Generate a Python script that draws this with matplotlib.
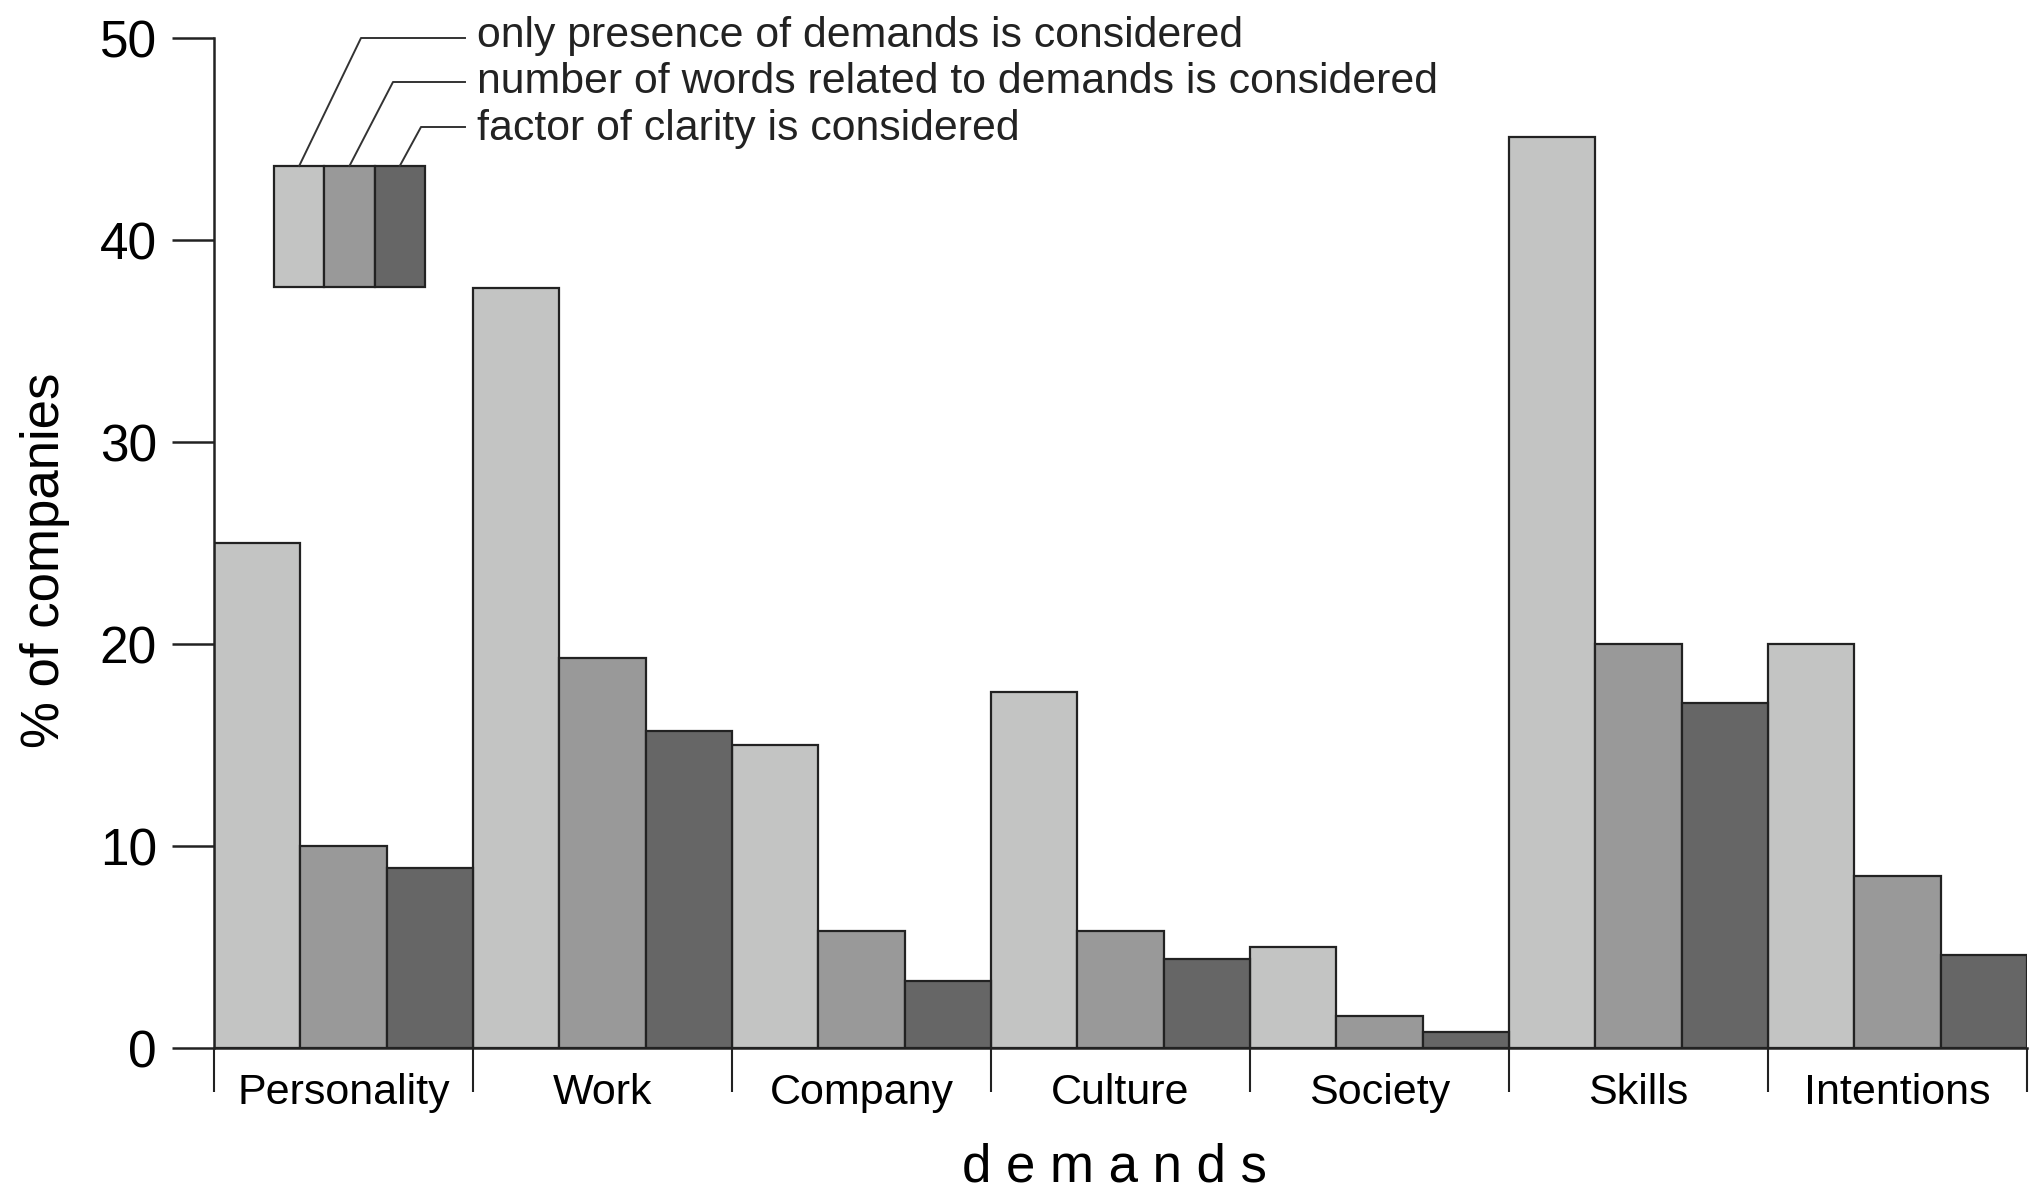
import matplotlib
matplotlib.use("Agg")
import matplotlib.pyplot as plt
from matplotlib.lines import Line2D
from matplotlib.patches import Rectangle

plt.rcParams["font.family"] = ["Liberation Sans", "DejaVu Sans"]

# data
categories = ["Personality", "Work", "Company", "Culture", "Society", "Skills", "Intentions"]
presence = [25.0, 37.6, 15.0, 17.6, 5.0, 45.1, 20.0]
word_count = [10.0, 19.3, 5.8, 5.8, 1.6, 20.0, 8.5]
clarity = [8.9, 15.7, 3.3, 4.4, 0.8, 17.1, 4.6]
series_labels = [
    "only presence of demands is considered",
    "number of words related to demands is considered",
    "factor of clarity is considered",
]
y_ticks = [0, 10, 20, 30, 40, 50]

colors = ["#c3c4c3", "#999999", "#666666"]
edge = "#222222"

W, H = 2038, 1201


def px(x, y):
    """pixel position (from top left) -> figure fraction"""
    return x / W, 1 - y / H


fig = plt.figure(figsize=(W / 100, H / 100), dpi=100)
fig.set_facecolor("white")
ax = fig.add_axes([214 / W, 1 - 1048 / H, (2027 - 214) / W, (1048 - 38) / H])

series = [presence, word_count, clarity]
n = len(series)
for i, vals in enumerate(series):
    xs = [k + (i + 0.5) / n for k in range(len(categories))]
    ax.bar(xs, vals, width=1 / n, color=colors[i], edgecolor=edge, linewidth=1.6)

ax.set_xlim(0, len(categories))
ax.set_ylim(0, 50)

for side in ["top", "right"]:
    ax.spines[side].set_visible(False)
for side in ["left", "bottom"]:
    ax.spines[side].set_linewidth(1.8)
    ax.spines[side].set_color(edge)

ax.set_yticks(y_ticks)
ax.tick_params(axis="y", length=30, width=1.8, pad=11, labelsize=37, color=edge)

ax.set_xticks([k + 0.5 for k in range(len(categories))])
ax.set_xticklabels(categories)
ax.set_xticks(range(len(categories) + 1), minor=True)
ax.tick_params(axis="x", which="major", length=0, pad=18, labelsize=31)
ax.tick_params(axis="x", which="minor", length=31.7, width=1.5, color=edge)

fig.text(*px(45, 560), "% of companies", rotation=90, ha="center", va="center", fontsize=38)
fig.text(*px(1114, 1168), "d e m a n d s", ha="center", va="center", fontsize=38)

# hand-drawn style legend with leader lines
box_left, box_top, box_bottom, cell_w = 274, 166, 287, 50.3
elbow_x = [361, 393, 421]
line_y = [38, 82, 127]
text_base = [47, 93, 140]
for i, label in enumerate(series_labels):
    x0 = box_left + i * cell_w
    fig.add_artist(Rectangle(px(x0, box_bottom), cell_w / W, (box_bottom - box_top) / H,
                             transform=fig.transFigure, facecolor=colors[i],
                             edgecolor=edge, linewidth=1.6))
    cx = x0 + cell_w / 2
    pts = [px(cx, box_top), px(elbow_x[i], line_y[i]), px(465, line_y[i])]
    fig.add_artist(Line2D([p[0] for p in pts], [p[1] for p in pts],
                          transform=fig.transFigure, color="#333333", linewidth=1.4))
    fig.text(*px(477, text_base[i]), label, va="baseline", ha="left", fontsize=30.8,
             color="#222222")

fig.savefig("out.png", dpi=100)
